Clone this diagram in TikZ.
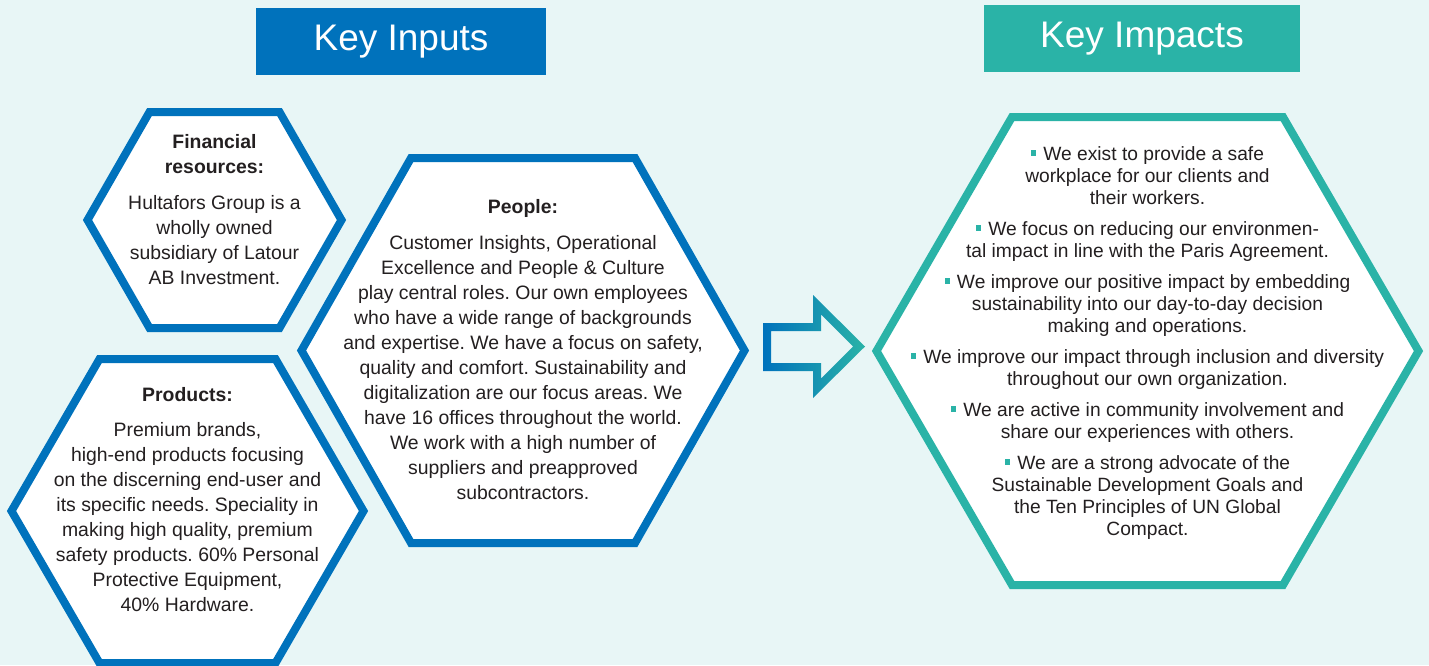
\documentclass[tikz,border=0pt]{standalone}
\usepackage{fontspec}
\setmainfont{Liberation Sans}
\frenchspacing

\definecolor{hublue}{RGB}{0,114,188}
\definecolor{huteal}{RGB}{42,179,167}
\definecolor{hubg}{RGB}{232,246,246}
\definecolor{hutext}{RGB}{35,31,32}

% hexagon with flat top: colour, centre x, centre y, half width, half height, half top edge
\newcommand{\hexcell}[6]{%
  \draw[#1, line width=4pt, fill=white]
    ({#2-#4},{#3}) -- ({#2-#6},{#3-#5}) -- ({#2+#6},{#3-#5})
    -- ({#2+#4},{#3}) -- ({#2+#6},{#3+#5}) -- ({#2-#6},{#3+#5}) -- cycle;}
\newcommand{\sqbullet}{\textcolor{huteal}{\rule[2.4pt]{2.7pt}{2.7pt}}\hspace{3.5pt}}

\begin{document}
\begin{tikzpicture}[x=0.5pt, y=-0.5pt,
    head/.style={text=white, font=\fontsize{18.5}{22}\selectfont, inner sep=0pt, minimum height=33.5pt},
    body/.style={text=hutext, font=\fontsize{9.7}{12.5}\selectfont, align=center, inner sep=0pt, anchor=north},
    impact/.style={body, font=\fontsize{9.6}{11}\selectfont}]
    \useasboundingbox (0,0) rectangle (1429,665);
    \fill[hubg] (0,0) rectangle (1429,665);

    \node[head, fill=hublue, minimum width=145pt] (inputs) at (401,41.5) {Key Inputs};
    \node[head, fill=huteal, minimum width=158pt] (impacts) at (1142,38.5) {Key Impacts};

    \hexcell{hublue}{214.5}{220}{127}{108}{65}
    \hexcell{hublue}{187.5}{511}{176}{152}{88}
    \hexcell{hublue}{523}{350.5}{221.5}{192.5}{112}
    \hexcell{huteal}{1147.5}{351}{271}{234}{135.5}

    \node[body] (finance) at (214.5,134) {\textbf{Financial}\\\textbf{resources:}\\[5.5pt]
        Hultafors Group is a\\wholly owned\\subsidiary of Latour\\AB Investment.};
    \node[body] (products) at (187.5,387) {\textbf{Products:}\\[5pt]
        Premium brands,\\high-end products focusing\\on the discerning end-user and\\its specific needs. Speciality in\\
        making high quality, premium\\safety products. 60\% Personal\\Protective Equipment,\\40\% Hardware.};
    \node[body] (people) at (523,199) {\textbf{People:}\\[5.5pt]
        Customer Insights, Operational\\Excellence and People \& Culture\\play central roles. Our own employees\\
        who have a wide range of backgrounds\\and expertise. We have a focus on safety,\\quality and comfort. Sustainability and\\
        digitalization are our focus areas. We\\have 16 offices throughout the world.\\We work with a high number of\\
        suppliers and preapproved\\subcontractors.};
    \node[impact] (goals) at (1147.5,146) {\sqbullet We exist to provide a safe\\workplace for our clients and\\their workers.\\[4.5pt]
        \sqbullet We focus on reducing our environmen-\\tal impact in line with the Paris Agreement.\\[4.5pt]
        \sqbullet We improve our positive impact by embedding\\sustainability into our day-to-day decision\\making and operations.\\[4.5pt]
        \sqbullet We improve our impact through inclusion and diversity\\throughout our own organization.\\[4.5pt]
        \sqbullet We are active in community involvement and\\share our experiences with others.\\[4.5pt]
        \sqbullet We are a strong advocate of the\\Sustainable Development Goals and\\the Ten Principles of UN Global\\Compact.};

    % hollow block arrow between the two sides
    \shade[left color=hublue, right color=huteal, even odd rule]
        (763,323) -- (813,323) -- (813,295) -- (865,346.5) -- (813,398) -- (813,371) -- (763,371) -- cycle
        (771,331) -- (821,331) -- (821,314.3) -- (853.2,346.5) -- (821,378.7) -- (821,363) -- (771,363) -- cycle;
\end{tikzpicture}
\end{document}
